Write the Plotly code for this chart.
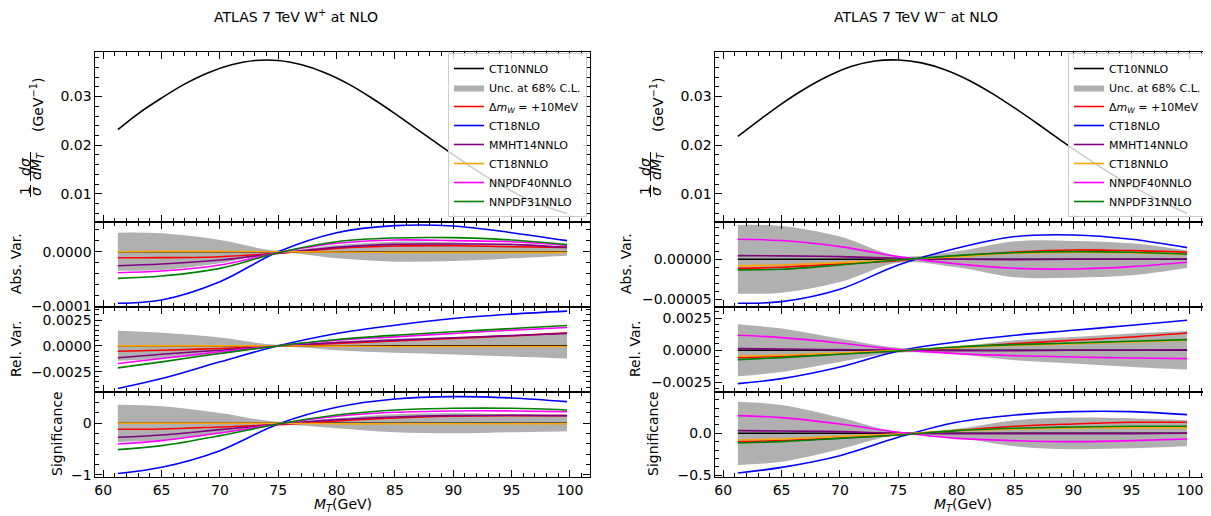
import plotly.graph_objects as go

# The page body adds an 8px margin; the figure starts at (8, 8) and fills the rest of the window.
OFF = 8
W, H = 1211 - OFF, 516 - OFF

# ---------------- data ----------------
x_top = [61.25, 63, 65, 67, 69, 71, 73, 75, 77, 79, 81, 83, 85, 87, 89, 91, 93, 95, 97, 99.75]
wp_xsec = [0.0232, 0.0265, 0.0297, 0.0326, 0.0349, 0.0365, 0.0374, 0.0374, 0.0365, 0.0349,
           0.0326, 0.0297, 0.0265, 0.0231, 0.0197, 0.0164, 0.0133, 0.0106, 0.0082, 0.0060]
wm_xsec = [0.0218, 0.0250, 0.0285, 0.0316, 0.0342, 0.0362, 0.0373, 0.0375, 0.0369, 0.0355,
           0.0334, 0.0307, 0.0276, 0.0243, 0.0209, 0.0176, 0.0145, 0.0117, 0.0091, 0.0060]

x_mt = [61.25, 65, 70, 75, 80, 85, 90, 95, 99.75]
ref_zero = [0, 0, 0, 0, 0, 0, 0, 0, 0]

# W+ absolute variation
wp_abs_band_hi = [35e-6, 33.8e-6, 21.5e-6, 2e-6, 12.3e-6, 18.4e-6, 17.2e-6, 12.3e-6, 7.4e-6]
wp_abs_band_lo = [-35e-6, -33.8e-6, -21.5e-6, -2e-6, -12.3e-6, -18.4e-6, -17.2e-6, -12.3e-6, -7.4e-6]
wp_abs_dmw = [-11.1e-6, -11e-6, -9.2e-6, -3e-6, 6.1e-6, 10.4e-6, 11e-6, 9.2e-6, 8e-6]
wp_abs_ct18nlo = [-95e-6, -89e-6, -55.3e-6, 0, 35e-6, 47.9e-6, 47.3e-6, 35e-6, 20.3e-6]
wp_abs_mmht14 = [-25.8e-6, -22.7e-6, -15.4e-6, -3.1e-6, 8e-6, 13.5e-6, 14.1e-6, 13.5e-6, 8e-6]
wp_abs_ct18nnlo = [0, 0.5e-6, 0.5e-6, 0, -0.6e-6, -1.2e-6, -1.2e-6, -1.2e-6, -1.2e-6]
wp_abs_nnpdf40 = [-38.7e-6, -35.6e-6, -24.6e-6, -1.8e-6, 15.4e-6, 21.5e-6, 20.3e-6, 18.4e-6, 11.7e-6]
wp_abs_nnpdf31 = [-49.1e-6, -44.8e-6, -30.7e-6, -1.8e-6, 18.4e-6, 25.2e-6, 25.8e-6, 21.5e-6, 12.9e-6]

# W+ relative variation
wp_rel_band_hi = [14.5e-4, 12.6e-4, 8e-4, 1e-4, 4.2e-4, 6.8e-4, 8.4e-4, 10.3e-4, 12.3e-4]
wp_rel_band_lo = [-14.5e-4, -12.6e-4, -8e-4, -1e-4, -4.2e-4, -6.8e-4, -8.4e-4, -10.3e-4, -12.3e-4]
wp_rel_dmw = [-5.2e-4, -4.2e-4, -2.6e-4, 0, 2.3e-4, 4.8e-4, 7.1e-4, 9.7e-4, 12.6e-4]
wp_rel_ct18nlo = [-41.3e-4, -31.7e-4, -15.5e-4, 0, 12e-4, 20e-4, 26.5e-4, 30.7e-4, 33.6e-4]
wp_rel_mmht14 = [-11.6e-4, -8.1e-4, -4.2e-4, 0, 3.2e-4, 5.5e-4, 7.8e-4, 10e-4, 12e-4]
wp_rel_ct18nnlo = [0, 0, 0, 0, -0.3e-4, -0.6e-4, -0.6e-4, -0.6e-4, -0.6e-4]
wp_rel_nnpdf40 = [-17.1e-4, -12.3e-4, -5.8e-4, 0, 5.5e-4, 8.7e-4, 12e-4, 15.2e-4, 17.8e-4]
wp_rel_nnpdf31 = [-21.3e-4, -15.5e-4, -7.4e-4, 0, 6.1e-4, 10.3e-4, 13.6e-4, 16.8e-4, 19.7e-4]

# W+ significance
wp_sig_band_hi = [0.361, 0.33, 0.2, 0.03, 0.097, 0.174, 0.194, 0.174, 0.155]
wp_sig_band_lo = [-0.361, -0.33, -0.2, -0.03, -0.097, -0.174, -0.194, -0.174, -0.155]
wp_sig_dmw = [-0.116, -0.11, -0.071, -0.026, 0.045, 0.103, 0.135, 0.148, 0.148]
wp_sig_ct18nlo = [-0.97, -0.851, -0.529, -0.013, 0.31, 0.471, 0.516, 0.49, 0.419]
wp_sig_mmht14 = [-0.271, -0.226, -0.123, -0.019, 0.071, 0.123, 0.148, 0.155, 0.148]
wp_sig_ct18nnlo = [0, 0, 0, 0, -0.01, -0.01, -0.01, -0.01, -0.01]
wp_sig_nnpdf40 = [-0.4, -0.335, -0.187, -0.013, 0.135, 0.213, 0.239, 0.239, 0.226]
wp_sig_nnpdf31 = [-0.51, -0.432, -0.239, -0.013, 0.161, 0.258, 0.29, 0.29, 0.258]

# W- absolute variation
wm_abs_band_hi = [43e-6, 41.7e-6, 28.4e-6, 4.2e-6, 10e-6, 22.5e-6, 23e-6, 20e-6, 11e-6]
wm_abs_band_lo = [-43e-6, -41.7e-6, -28.4e-6, -4.2e-6, -10e-6, -22.5e-6, -23e-6, -20e-6, -11e-6]
wm_abs_dmw = [-11.3e-6, -10e-6, -5.8e-6, -1.7e-6, 4.2e-6, 9.2e-6, 11.7e-6, 10.8e-6, 8.8e-6]
wm_abs_ct18nlo = [-55e-6, -53e-6, -37.5e-6, -7.1e-6, 13.8e-6, 28.4e-6, 30.4e-6, 25e-6, 14.6e-6]
wm_abs_mmht14 = [4.6e-6, 4.2e-6, 3.3e-6, 1.3e-6, 0, -0.4e-6, 0, 0, 0.4e-6]
wm_abs_ct18nnlo = [-8.3e-6, -7.1e-6, -4.2e-6, -0.8e-6, 3.3e-6, 7.5e-6, 8.8e-6, 8.3e-6, 6.3e-6]
wm_abs_nnpdf40 = [25e-6, 23.4e-6, 15.8e-6, 3.3e-6, -5.8e-6, -11.3e-6, -12.1e-6, -9.2e-6, -3.8e-6]
wm_abs_nnpdf31 = [-13.3e-6, -12.5e-6, -7.1e-6, -0.8e-6, 4.6e-6, 8.3e-6, 9.6e-6, 8.8e-6, 6.3e-6]

# W- relative variation
wm_rel_band_hi = [20.3e-4, 16.9e-4, 9.1e-4, 2e-4, 3.1e-4, 7.8e-4, 10.4e-4, 13e-4, 15e-4]
wm_rel_band_lo = [-20.3e-4, -16.9e-4, -9.1e-4, -2e-4, -3.1e-4, -7.8e-4, -10.4e-4, -13e-4, -15e-4]
wm_rel_dmw = [-5.7e-4, -4.7e-4, -2.6e-4, -0.5e-4, 2.1e-4, 5.2e-4, 7.8e-4, 10.4e-4, 13.5e-4]
wm_rel_ct18nlo = [-26e-4, -22.1e-4, -13e-4, -0.5e-4, 6.5e-4, 11.7e-4, 15.6e-4, 19.5e-4, 23.4e-4]
wm_rel_mmht14 = [1.3e-4, 1e-4, 0.5e-4, 0, -0.3e-4, -0.3e-4, 0, 0, 0.3e-4]
wm_rel_ct18nnlo = [-4.7e-4, -3.9e-4, -2.1e-4, 0, 2.1e-4, 3.9e-4, 5.2e-4, 6.5e-4, 7.8e-4]
wm_rel_nnpdf40 = [11.7e-4, 9.9e-4, 5.7e-4, 0.5e-4, -2.6e-4, -4.2e-4, -5.2e-4, -6e-4, -6.5e-4]
wm_rel_nnpdf31 = [-7.3e-4, -5.7e-4, -3.1e-4, -0.5e-4, 2.6e-4, 4.4e-4, 5.7e-4, 7e-4, 8.3e-4]

# W- significance
wm_sig_band_hi = [0.38, 0.34, 0.19, 0.02, 0.054, 0.156, 0.19, 0.18, 0.156]
wm_sig_band_lo = [-0.38, -0.34, -0.19, -0.02, -0.054, -0.156, -0.19, -0.18, -0.156]
wm_sig_dmw = [-0.1, -0.088, -0.056, -0.02, 0.032, 0.084, 0.112, 0.132, 0.132]
wm_sig_ct18nlo = [-0.476, -0.408, -0.268, -0.048, 0.132, 0.22, 0.26, 0.26, 0.224]
wm_sig_mmht14 = [0.032, 0.028, 0.02, 0, -0.004, -0.004, -0.004, -0.004, 0]
wm_sig_ct18nnlo = [-0.08, -0.068, -0.036, -0.008, 0.032, 0.052, 0.064, 0.068, 0.068]
wm_sig_nnpdf40 = [0.212, 0.188, 0.112, 0.012, -0.06, -0.088, -0.1, -0.088, -0.068]
wm_sig_nnpdf31 = [-0.116, -0.1, -0.06, -0.02, 0.032, 0.06, 0.076, 0.084, 0.084]

# ---------------- styling ----------------
FONT = "DejaVu Sans"
GRAY = "#b0b0b0"
series_style = [
    ("Δ<i>m</i><sub><i>W</i></sub> = +10MeV", "#ff0000", 3),
    ("CT18NLO", "#0000ff", 4),
    ("MMHT14NNLO", "#800080", 5),
    ("CT18NNLO", "#ffa500", 6),
    ("NNPDF40NNLO", "#ff00ff", 7),
    ("NNPDF31NNLO", "#008000", 8),
]

def P(px):
    return (px - OFF) / W

def Q(py):
    return 1 - (py - OFF) / H

fig = go.Figure()

def add_top(xa, ya, vals, legend):
    fig.add_trace(go.Scatter(x=x_top, y=vals, xaxis=xa, yaxis=ya, mode="lines",
                             line=dict(color="black", width=1.6, shape="spline"),
                             name="CT10NNLO", legend=legend, legendrank=1, showlegend=True))

def add_panel(xa, ya, lo, hi, curves, legend, show):
    fig.add_trace(go.Scatter(x=x_mt, y=lo, xaxis=xa, yaxis=ya, mode="lines",
                             line=dict(width=0, shape="spline", color=GRAY),
                             showlegend=False, hoverinfo="skip", legend=legend))
    fig.add_trace(go.Scatter(x=x_mt, y=hi, xaxis=xa, yaxis=ya, mode="lines",
                             line=dict(width=0, shape="spline", color=GRAY),
                             fill="tonexty", fillcolor=GRAY, name="Unc. at 68% C.L.",
                             legend=legend, legendrank=2, showlegend=show))
    fig.add_trace(go.Scatter(x=x_mt, y=ref_zero, xaxis=xa, yaxis=ya, mode="lines",
                             line=dict(color="black", width=1.6, shape="spline"),
                             name="CT10NNLO", legend=legend, showlegend=False))
    for (name, color, rank), vals in zip(series_style, curves):
        fig.add_trace(go.Scatter(x=x_mt, y=vals, xaxis=xa, yaxis=ya, mode="lines",
                                 line=dict(color=color, width=1.6, shape="spline"),
                                 name=name, legend=legend, legendrank=rank, showlegend=show))

add_top("x", "y", wp_xsec, "legend")
add_panel("x2", "y2", wp_abs_band_lo, wp_abs_band_hi,
          [wp_abs_dmw, wp_abs_ct18nlo, wp_abs_mmht14, wp_abs_ct18nnlo, wp_abs_nnpdf40, wp_abs_nnpdf31], "legend", True)
add_panel("x3", "y3", wp_rel_band_lo, wp_rel_band_hi,
          [wp_rel_dmw, wp_rel_ct18nlo, wp_rel_mmht14, wp_rel_ct18nnlo, wp_rel_nnpdf40, wp_rel_nnpdf31], "legend", False)
add_panel("x4", "y4", wp_sig_band_lo, wp_sig_band_hi,
          [wp_sig_dmw, wp_sig_ct18nlo, wp_sig_mmht14, wp_sig_ct18nnlo, wp_sig_nnpdf40, wp_sig_nnpdf31], "legend", False)

add_top("x5", "y5", wm_xsec, "legend2")
add_panel("x6", "y6", wm_abs_band_lo, wm_abs_band_hi,
          [wm_abs_dmw, wm_abs_ct18nlo, wm_abs_mmht14, wm_abs_ct18nnlo, wm_abs_nnpdf40, wm_abs_nnpdf31], "legend2", True)
add_panel("x7", "y7", wm_rel_band_lo, wm_rel_band_hi,
          [wm_rel_dmw, wm_rel_ct18nlo, wm_rel_mmht14, wm_rel_ct18nnlo, wm_rel_nnpdf40, wm_rel_nnpdf31], "legend2", False)
add_panel("x8", "y8", wm_sig_band_lo, wm_sig_band_hi,
          [wm_sig_dmw, wm_sig_ct18nlo, wm_sig_mmht14, wm_sig_ct18nnlo, wm_sig_nnpdf40, wm_sig_nnpdf31], "legend2", False)

# ---------------- axes ----------------
common = dict(showline=True, linecolor="black", linewidth=1, mirror="allticks",
              ticks="inside", ticklen=7, tickwidth=1, tickcolor="black",
              showgrid=False, zeroline=False, automargin=False,
              tickfont=dict(family=FONT, size=14, color="black"))

x_dom_left = [P(95.4), P(589.5)]
x_dom_right = [P(715.4), P(1209.5)]
row_px = [(51.7, 221.7), (221.7, 306.7), (306.7, 391.7), (391.7, 476.7)]
row_dom = [[Q(b), Q(t)] for (t, b) in row_px]

y_specs = {
    1: dict(range=[0.0043, 0.0392], dtick=0.01, tickformat=".2f", minor_dtick=0.002),
    2: dict(range=[-1.013e-4, 5.52e-5], dtick=1e-4, tickformat=".4f", minor_dtick=2e-5),
    3: dict(range=[-0.00444, 0.00379], dtick=0.0025, tickformat=".4f", minor_dtick=0.0005),
    4: dict(range=[-1.033, 0.611], dtick=1, tickformat="d", minor_dtick=0.2),
    5: dict(range=[0.0043, 0.0392], dtick=0.01, tickformat=".2f", minor_dtick=0.002),
    6: dict(range=[-5.93e-5, 4.7e-5], dtick=5e-5, tickformat=".5f", minor_dtick=1e-5),
    7: dict(range=[-0.00323, 0.0034], dtick=0.0025, tickformat=".4f", minor_dtick=0.0005),
    8: dict(range=[-0.52, 0.499], dtick=0.5, tickformat=".1f", minor_dtick=0.1),
}

layout_axes = {}
for i in range(1, 9):
    suffix = "" if i == 1 else str(i)
    row = (i - 1) % 4
    xdom = x_dom_left if i <= 4 else x_dom_right
    layout_axes["xaxis" + suffix] = dict(
        common, domain=xdom, anchor="y" + suffix, range=[59.325, 101.675],
        dtick=5, tick0=60, showticklabels=(row == 3),
        minor=dict(dtick=1, ticks="inside", ticklen=4, tickcolor="black", tickwidth=1))
    s = y_specs[i]
    layout_axes["yaxis" + suffix] = dict(
        common, domain=row_dom[row], anchor="x" + suffix, range=s["range"],
        dtick=s["dtick"], tick0=0, tickformat=s["tickformat"],
        minor=dict(dtick=s["minor_dtick"], ticks="inside", ticklen=4, tickcolor="black", tickwidth=1))

legend_style = dict(font=dict(family=FONT, size=11, color="black"),
                    bgcolor="rgba(255,255,255,0.8)", bordercolor="#cccccc", borderwidth=1,
                    xanchor="right", yanchor="top", itemwidth=30, tracegroupgap=0,
                    traceorder="normal")

annotations = []
def ann(text, px, py, size=14, angle=0):
    annotations.append(dict(text=text, x=P(px), y=Q(py), xref="paper", yref="paper",
                            showarrow=False, textangle=angle, xanchor="center", yanchor="middle",
                            font=dict(family=FONT, size=size, color="black")))

shapes = []
def vbar(px, py0, py1):
    shapes.append(dict(type="line", xref="paper", yref="paper", x0=P(px), x1=P(px),
                       y0=Q(py0), y1=Q(py1), line=dict(color="black", width=1)))

ann("ATLAS 7 TeV W<sup>+</sup> at NLO", 296, 16, 14)
ann("ATLAS 7 TeV W<sup>−</sup> at NLO", 916, 16, 14)
for off in (0, 620):
    ann("(GeV<sup>−1</sup>)", 37 + off, 105, 14, -90)
    ann("<i>dσ</i>", 25 + off, 167, 14, -90)
    ann("<i>dM</i><sub><i>T</i></sub>", 37 + off, 166, 14, -90)
    vbar(30.5 + off, 152, 181)
    ann("1", 25 + off, 191, 14, -90)
    ann("<i>σ</i>", 36 + off, 191, 14, -90)
    vbar(30.5 + off, 185, 197)
    ann("<i>M</i><sub><i>T</i></sub>(GeV)", 342.5 + off, 505, 14)

ann("Abs. Var.", 16, 264, 14, -90)
ann("Rel. Var.", 16, 349, 14, -90)
ann("Significance", 57, 434, 14, -90)
ann("Abs. Var.", 626, 264, 14, -90)
ann("Rel. Var.", 635, 349, 14, -90)
ann("Significance", 653, 434, 14, -90)

fig.update_layout(
    width=W, height=H, margin=dict(l=0, r=0, t=0, b=0, autoexpand=False),
    paper_bgcolor="white", plot_bgcolor="white",
    font=dict(family=FONT, size=14, color="black"),
    legend=dict(legend_style, x=P(587), y=Q(53)),
    legend2=dict(legend_style, x=P(1207), y=Q(53)),
    annotations=annotations, shapes=shapes,
    **layout_axes,
)

fig.write_html("out.html")
